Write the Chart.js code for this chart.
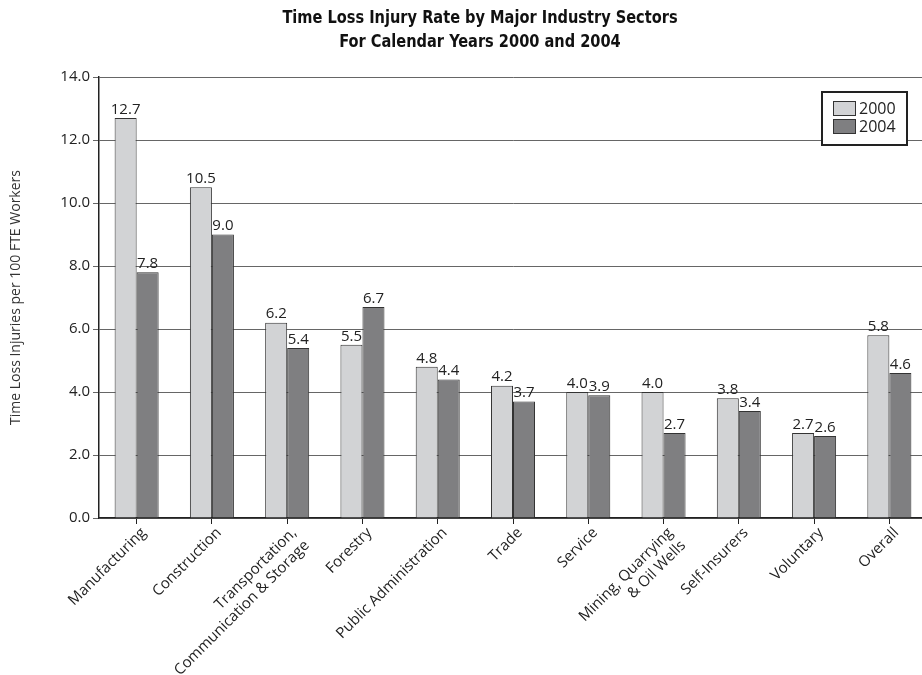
<!DOCTYPE html>
<html>
<head>
<meta charset="utf-8">
<script src="https://cdn.jsdelivr.net/npm/chart.js@4/dist/chart.umd.min.js"></script>
<style>
  html, body { margin: 0; padding: 0; background: #fff; overflow: hidden; }
  #wrap { position: relative; width: 927px; height: 675px; }
</style>
</head>
<body>
<div id="wrap"><canvas id="c"></canvas></div>
<script>
// Injury rates per 100 FTE workers, by sector
const sectors = [
  'Manufacturing',
  'Construction',
  ['Transportation,', 'Communication & Storage'],
  'Forestry',
  'Public Administration',
  'Trade',
  'Service',
  ['Mining, Quarrying', '& Oil Wells'],
  'Self-Insurers',
  'Voluntary',
  'Overall'
];
const rates2000 = [12.7, 10.5, 6.2, 5.5, 4.8, 4.2, 4.0, 4.0, 3.8, 2.7, 5.8];
const rates2004 = [7.8, 9.0, 5.4, 6.7, 4.4, 3.7, 3.9, 2.7, 3.4, 2.6, 4.6];
const yTicks = [0, 2, 4, 6, 8, 10, 12, 14];
const titleLines = ['Time Loss Injury Rate by Major Industry Sectors', 'For Calendar Years 2000 and 2004'];

const FONT = "'Open Sans', 'Noto Sans', sans-serif";
const TITLE_FONT = "'DejaVu Sans Condensed', sans-serif";
const INK = '#222';

// Two-line heading above the plot, slightly narrowed
const heading = {
  id: 'heading',
  afterDraw(chart) {
    const ctx = chart.ctx;
    ctx.save();
    ctx.font = 'bold 18px ' + TITLE_FONT;
    ctx.fillStyle = '#111';
    ctx.textAlign = 'center';
    ctx.textBaseline = 'middle';
    titleLines.forEach((t, i) => {
      ctx.save();
      ctx.translate(480, 18 + i * 24);
      ctx.scale(0.9, 1);
      ctx.fillText(t, 0, 0);
      ctx.restore();
    });
    ctx.restore();
  }
};

// Value labels above each bar
const valueLabels = {
  id: 'valueLabels',
  afterDatasetsDraw(chart) {
    const ctx = chart.ctx;
    ctx.save();
    ctx.font = '15px ' + FONT;
    ctx.fillStyle = INK;
    ctx.textAlign = 'center';
    ctx.textBaseline = 'bottom';
    chart.data.datasets.forEach((ds, i) => {
      chart.getDatasetMeta(i).data.forEach((bar, j) => {
        ctx.fillText(ds.data[j].toFixed(1), bar.x, bar.y - 1);
      });
    });
    ctx.restore();
  }
};

// Boxed legend in the upper right corner of the plot
const boxLegend = {
  id: 'boxLegend',
  afterDraw(chart) {
    const ctx = chart.ctx;
    const x = 822, y = 92, w = 85, h = 53;
    ctx.save();
    ctx.fillStyle = '#fff';
    ctx.fillRect(x, y, w, h);
    ctx.lineWidth = 2;
    ctx.strokeStyle = '#222';
    ctx.strokeRect(x, y, w, h);
    ctx.font = '16px ' + FONT;
    ctx.textBaseline = 'middle';
    ctx.textAlign = 'left';
    chart.data.datasets.forEach((ds, i) => {
      const ry = y + 9 + i * 18;
      ctx.fillStyle = ds.backgroundColor;
      ctx.fillRect(x + 11, ry, 22, 14);
      ctx.lineWidth = 1;
      ctx.strokeStyle = '#333';
      ctx.strokeRect(x + 11.5, ry + 0.5, 22, 14);
      ctx.fillStyle = INK;
      ctx.fillText(ds.label, x + 37, ry + 8);
    });
    ctx.restore();
  }
};

new Chart(document.getElementById('c'), {
  type: 'bar',
  data: {
    labels: sectors,
    datasets: [
      { label: '2000', data: rates2000, backgroundColor: '#d2d3d5', borderColor: '#333', borderWidth: 1 },
      { label: '2004', data: rates2004, backgroundColor: '#7f7f81', borderColor: '#333', borderWidth: 1 }
    ]
  },
  options: {
    responsive: true,
    maintainAspectRatio: false,
    animation: false,
    datasets: { bar: { categoryPercentage: 0.585, barPercentage: 1.0 } },
    layout: { padding: { left: 0, right: 0, top: 77, bottom: 0 } },
    plugins: {
      legend: { display: false },
      tooltip: { enabled: false },
      title: { display: false }
    },
    scales: {
      x: {
        offset: true,
        grid: { display: true, drawOnChartArea: false, drawTicks: true, tickLength: 6, color: '#222', offset: false },
        border: { display: true, color: '#222', width: 1.5 },
        ticks: {
          autoSkip: false,
          maxRotation: 45,
          minRotation: 45,
          padding: 0,
          labelOffset: 7,
          color: INK,
          font: { family: FONT, size: 15 }
        },
        afterFit(scale) { scale.height = 157; }
      },
      y: {
        min: 0,
        max: 14,
        afterBuildTicks(scale) { scale.ticks = yTicks.map(v => ({ value: v })); },
        grid: { color: '#666', lineWidth: 1, drawTicks: true, tickLength: 6 },
        border: { display: true, color: '#222', width: 1.5 },
        ticks: {
          padding: 3,
          color: INK,
          font: { family: FONT, size: 15 },
          callback: v => v.toFixed(1)
        },
        title: {
          display: true,
          text: 'Time Loss Injuries per 100 FTE Workers',
          color: '#333',
          font: { family: FONT, size: 14 },
          padding: { top: 8, bottom: 8 }
        },
        afterFit(scale) { scale.width = 99; }
      }
    }
  },
  plugins: [valueLabels, boxLegend, heading]
});
</script>
</body>
</html>
